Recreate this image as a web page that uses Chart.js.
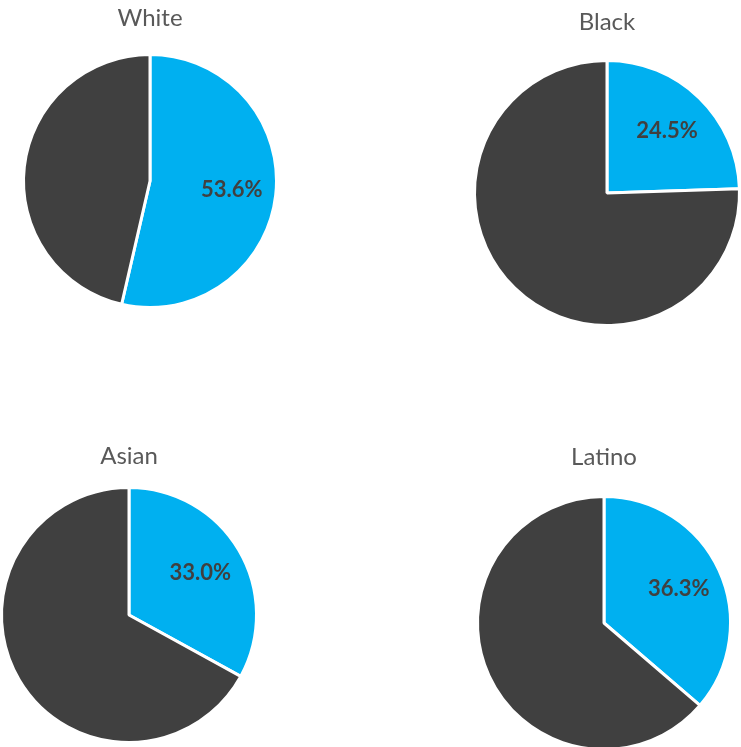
<!DOCTYPE html>
<html>
<head>
<meta charset="utf-8">
<script src="https://cdn.jsdelivr.net/npm/chart.js@4/dist/chart.umd.min.js"></script>
<style>
  html, body { margin: 0; padding: 0; background: #fff; overflow: hidden; }
  body { width: 741px; height: 747px; position: relative; }
  canvas { position: absolute; }
</style>
</head>
<body>
<canvas id="c0"></canvas>
<canvas id="c1"></canvas>
<canvas id="c2"></canvas>
<canvas id="c3"></canvas>
<script>
// data
var groups = ['White', 'Black', 'Asian', 'Latino'];
var sliceLabels = ['Share', 'Other'];
var shareValues = [53.6, 24.5, 33.0, 36.3];
var otherValues = [46.4, 75.5, 67.0, 63.7];

// layout per chart: left, top, height, pie radius
var boxes = [
    { left: 0,   top: 3,   h: 326, r: 125 },
    { left: 457, top: 7,   h: 342, r: 131 },
    { left: -21, top: 441, h: 318, r: 126 },
    { left: 454, top: 442, h: 332, r: 125 }
];

var blue = '#00B0F0';
var dark = '#404040';

// draws the percentage inside the blue slice
var pctLabel = {
    id: 'pctLabel',
    afterDatasetsDraw(chart) {
        var ctx = chart.ctx;
        var arc = chart.getDatasetMeta(0).data[0];
        var p = arc.getProps(['x', 'y', 'startAngle', 'endAngle', 'outerRadius'], true);
        var mid = (p.startAngle + p.endAngle) / 2;
        var rr = p.outerRadius * 0.65;
        ctx.save();
        ctx.font = 'bold 22px Lato';
        ctx.fillStyle = '#404040';
        ctx.textAlign = 'center';
        ctx.textBaseline = 'middle';
        ctx.fillText(chart.data.datasets[0].data[0].toFixed(1) + '%', p.x + Math.cos(mid) * rr, p.y + Math.sin(mid) * rr);
        ctx.restore();
    }
};

groups.forEach(function (g, i) {
    var b = boxes[i];
    var cv = document.getElementById('c' + i);
    cv.width = 300;
    cv.height = b.h;
    cv.style.left = b.left + 'px';
    cv.style.top = b.top + 'px';

    new Chart(cv.getContext('2d'), {
        type: 'pie',
        data: {
            labels: sliceLabels,
            datasets: [{
                data: [shareValues[i], otherValues[i]],
                backgroundColor: [blue, dark],
                borderColor: '#ffffff',
                borderWidth: 3,
                radius: b.r + 1.5
            }]
        },
        options: {
            responsive: false,
            animation: false,
            devicePixelRatio: 1,
            layout: { padding: 0 },
            plugins: {
                legend: { display: false },
                tooltip: { enabled: false },
                title: {
                    display: true,
                    text: g,
                    color: '#595959',
                    font: { family: 'Lato', size: 24, weight: 'normal', lineHeight: 1.25 },
                    padding: 0
                }
            }
        },
        plugins: [pctLabel]
    });
});
</script>
</body>
</html>
